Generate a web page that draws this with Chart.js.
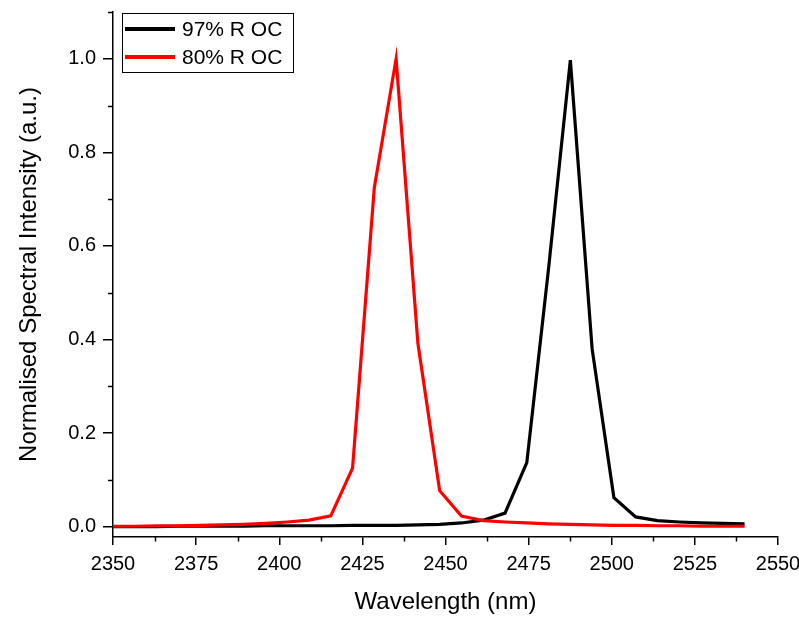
<!DOCTYPE html>
<html>
<head>
<meta charset="utf-8">
<title>Spectra</title>
<script src="https://cdn.jsdelivr.net/npm/chart.js@4.4.1/dist/chart.umd.min.js"></script>
<style>
  body { margin: 0; background: #fff; }
  canvas { display: block; }
</style>
</head>
<body>
<canvas id="spectraChart" width="799" height="619"></canvas>
<script>
// wavelength grid (nm), shared by both spectra
var wavelengths = [2350.00, 2356.55, 2363.10, 2369.65, 2376.20, 2382.75, 2389.30, 2395.85, 2402.40, 2408.95,
                   2415.50, 2422.05, 2428.60, 2435.15, 2441.70, 2448.25, 2454.80, 2461.35, 2467.90, 2474.45,
                   2481.00, 2487.55, 2494.10, 2500.65, 2507.20, 2513.75, 2520.30, 2526.85, 2533.40, 2539.95];

var oc97 = [0.000, 0.000, 0.000, 0.001, 0.001, 0.001, 0.001, 0.002, 0.002, 0.002,
            0.002, 0.003, 0.003, 0.003, 0.004, 0.005, 0.008, 0.014, 0.029, 0.137,
            0.552, 0.997, 0.380, 0.062, 0.021, 0.013, 0.010, 0.008, 0.007, 0.006];

var oc80 = [0.001, 0.001, 0.002, 0.002, 0.003, 0.004, 0.005, 0.007, 0.010, 0.014,
            0.023, 0.125, 0.725, 1.000, 0.392, 0.077, 0.023, 0.013, 0.010, 0.008,
            0.006, 0.005, 0.004, 0.003, 0.003, 0.002, 0.002, 0.001, 0.001, 0.001];

var seriesLabels = ["97% R OC", "80% R OC"];
var xMinorTicks = [2362.5, 2387.5, 2412.5, 2437.5, 2462.5, 2487.5, 2512.5, 2537.5];
var yMinorTicks = [0.1, 0.3, 0.5, 0.7, 0.9, 1.1];

var font_family = "'Liberation Sans', Arial, sans-serif";
Chart.defaults.color = "#000";
Chart.defaults.font.family = font_family;

function toPoints(xs, ys) {
  return xs.map(function (x, i) { return { x: x, y: ys[i] }; });
}

// minor ticks (shorter than the major ones)
var minorTicks = {
  id: "minorTicks",
  afterDraw: function (chart) {
    var ctx = chart.ctx;
    var xs = chart.scales.x, ys = chart.scales.y;
    ctx.save();
    ctx.strokeStyle = "#000";
    ctx.lineWidth = 1.5;
    ctx.beginPath();
    yMinorTicks.forEach(function (v) {
      var py = Math.round(ys.getPixelForValue(v)) + 0.5;
      ctx.moveTo(ys.right - 5, py);
      ctx.lineTo(ys.right, py);
    });
    xMinorTicks.forEach(function (v) {
      var px = Math.round(xs.getPixelForValue(v)) + 0.5;
      ctx.moveTo(px, xs.top);
      ctx.lineTo(px, xs.top + 4.5);
    });
    ctx.stroke();
    ctx.restore();
  }
};

// boxed legend in the top-left corner of the plot
var boxLegend = {
  id: "boxLegend",
  afterDraw: function (chart) {
    var ctx = chart.ctx;
    var area = chart.chartArea;
    var x0 = area.left + 9, y0 = area.top + 1;
    var w = 171, rowH = 28;
    ctx.save();
    ctx.fillStyle = "#fff";
    ctx.fillRect(x0, y0, w, rowH * 2 + 3);
    ctx.strokeStyle = "#000";
    ctx.lineWidth = 1;
    ctx.strokeRect(x0 + 0.5, y0 + 0.5, w, rowH * 2 + 3);
    ctx.font = "21px " + font_family;
    ctx.textBaseline = "middle";
    ctx.textAlign = "left";
    [0, 1].forEach(function (di, row) {
      var ds = chart.data.datasets.find(function (d) { return d.label === seriesLabels[di]; });
      var cy = y0 + 16 + row * rowH;
      ctx.strokeStyle = ds.borderColor;
      ctx.lineWidth = 4;
      ctx.beginPath();
      ctx.moveTo(x0 + 3, cy);
      ctx.lineTo(x0 + 53, cy);
      ctx.stroke();
      ctx.fillStyle = "#000";
      ctx.fillText(ds.label, x0 + 60, cy + 1);
    });
    ctx.restore();
  }
};

var ctx = document.getElementById("spectraChart").getContext("2d");
var chart = new Chart(ctx, {
  type: "line",
  data: {
    datasets: [{
        label: seriesLabels[1],
        data: toPoints(wavelengths, oc80),
        borderColor: "#ff0000",
        borderWidth: 3.2,
        pointRadius: 0,
        tension: 0,
        fill: false,
        order: 0
      }, {
        label: seriesLabels[0],
        data: toPoints(wavelengths, oc97),
        borderColor: "#000000",
        borderWidth: 3.2,
        pointRadius: 0,
        tension: 0,
        fill: false,
        order: 1
      }
    ]
  },
  options: {
    responsive: false,
    animation: false,
    events: [],
    layout: { padding: { top: 12, right: 21, bottom: 0, left: 0 } },
    plugins: {
      legend: { display: false },
      tooltip: { enabled: false }
    },
    scales: {
      x: {
        type: "linear",
        min: 2350,
        max: 2550,
        grid: { display: true, drawOnChartArea: false, drawTicks: true, tickLength: 8, color: "#000", lineWidth: 1.5 },
        border: { display: true, color: "#000", width: 1.5 },
        ticks: { stepSize: 25, includeBounds: false, padding: 7, maxRotation: 0, font: { size: 20 },
                 callback: function (v) { return String(v); } },
        title: { display: true, text: "Wavelength (nm)", font: { size: 24 }, padding: { top: 0, bottom: 2 } },
        afterFit: function (scale) {
          scale.height = 82;
          scale.paddingLeft = 0;
          scale.paddingRight = 0;
        }
      },
      y: {
        min: -0.022,
        max: 1.1,
        grid: { display: true, drawOnChartArea: false, drawTicks: true, tickLength: 10, color: "#000", lineWidth: 1.5 },
        border: { display: true, color: "#000", width: 1.5 },
        ticks: { stepSize: 0.2, includeBounds: false, padding: 7, font: { size: 20 },
                 callback: function (v) { return v.toFixed(1); } },
        title: { display: true, text: "Normalised Spectral Intensity (a.u.)", font: { size: 24 }, padding: { top: 15, bottom: 0 } },
        afterFit: function (scale) {
          scale.width = 113;
          scale.paddingTop = 0;
          scale.paddingBottom = 0;
        }
      }
    }
  },
  plugins: [minorTicks, boxLegend]
});
</script>
</body>
</html>
